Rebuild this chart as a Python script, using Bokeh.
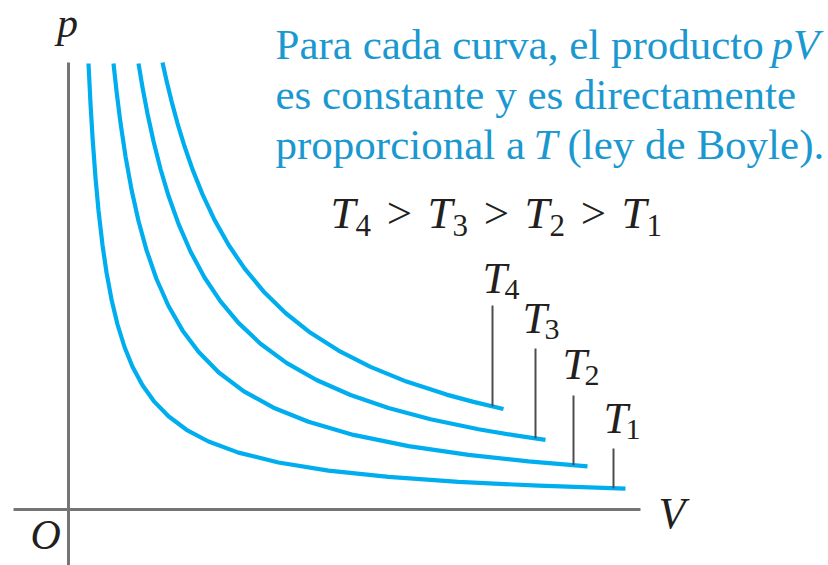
import numpy as np
from bokeh.plotting import figure
from bokeh.models import Range1d, Label
from bokeh.embed import file_html
from bokeh.resources import INLINE

# ---- data (chart units: V to the right of the p axis, p above the V axis) ----
names = ["T1", "T2", "T3", "T4"]

V_T1 = [20, 22, 24, 27, 30, 34, 38, 43, 49, 56, 64, 74, 86, 100, 118, 140, 170, 210, 260, 320, 390, 470, 557]
p_T1 = [446, 405.9, 372.5, 331.7, 299, 264.4, 237.1, 210.1, 185, 162.5, 142.8, 124.2, 107.6, 93.2, 79.7,
        68, 56.9, 47, 38.9, 32.6, 27.6, 23.8, 20.8]

V_T2 = [45, 48, 52, 57, 63, 70, 78, 88, 100, 114, 130, 150, 175, 205, 240, 285, 340, 400, 460, 519]
p_T2 = [446, 418.4, 386.6, 353.2, 320, 288.5, 259.4, 230.5, 203.5, 179.1, 157.7, 137.3, 118.4, 101.8,
        87.7, 74.6, 63.4, 54.6, 48.1, 43.2]

V_T3 = [70, 74, 79, 85, 92, 100, 110, 122, 136, 152, 170, 192, 218, 248, 282, 320, 362, 410, 445, 477]
p_T3 = [446, 422.2, 395.8, 368.2, 340.5, 313.7, 285.6, 258.0, 232.0, 208.1, 186.6, 165.8, 146.6, 129.5,
        114.5, 101.5, 90.3, 80.3, 74.4, 69.7]

V_T4 = [94, 98, 103, 109, 116, 124, 134, 146, 160, 176, 195, 217, 242, 270, 302, 338, 378, 405, 435]
p_T4 = [447, 429.0, 408.4, 386.2, 363.2, 340.1, 315.1, 289.6, 264.7, 241.1, 218.1, 196.5, 176.7, 158.9,
        142.6, 127.9, 114.9, 107.6, 100.5]

curves_V = [V_T1, V_T2, V_T3, V_T4]
curves_p = [p_T1, p_T2, p_T3, p_T4]
subs = ["1", "2", "3", "4"]

# where each curve label's leader line sits (V) and how high it starts (p)
leader_V = [545, 505, 467, 424]
leader_top = [61, 114, 161, 204]

# ---- styling ----
CURVE = "#00aeef"
BLUE_TXT = "#1a98cf"
AXIS = "#757575"
INK = "#231f20"
SERIF = "Liberation Serif"

OX, OY = 68, 509  # origin position in the picture (page pixels)
W, H = 828, 565
TXT_DY = 14        # text baseline correction

p = figure(width=W, height=H, output_backend="svg", toolbar_location=None,
           x_range=Range1d(-OX, W - OX), y_range=Range1d(OY - H, OY),
           min_border=0)
p.axis.visible = False
p.grid.visible = False
p.outline_line_color = None
p.background_fill_color = "white"
p.border_fill_color = "white"


def X(px):
    return px - OX


def Y(py):
    return OY - py


def ann(x, y, text, size, style="normal", color=INK, align="left"):
    p.add_layout(Label(x=X(x), y=Y(y - TXT_DY), text=text, text_font=SERIF, text_font_size=f"{size}px",
                       text_font_style=style, text_color=color, text_align=align,
                       text_baseline="alphabetic"))


# axes (plain lines)
p.segment(x0=[X(13), 0], y0=[0, Y(62)], x1=[X(640), 0], y1=[0, Y(570)],
          line_color=AXIS, line_width=3)

# isotherms
for Vs, ps in zip(curves_V, curves_p):
    p.line(Vs, ps, line_color=CURVE, line_width=4.2, line_cap="butt", line_join="round")

# leader lines down to each curve
leader_bot = [float(np.interp(v, Vs, ps)) for v, Vs, ps in zip(leader_V, curves_V, curves_p)]
p.segment(x0=leader_V, y0=leader_top, x1=leader_V, y1=leader_bot, line_color="#4d4d4d", line_width=2)

# curve labels T_n
lab_left = [603, 562, 522, 482]
lab_base = [432, 378, 332, 292]
for s, lx, lb in zip(subs, lab_left, lab_base):
    ann(lx, lb, "T", 44, "italic")
    ann(lx + 22, lb + 11, s, 30)

# axis labels
ann(67, 36, "p", 42, "italic", align="center")
ann(658, 527, "V", 44, "italic")
ann(30, 548, "O", 42, "italic")

# blue explanatory text
ann(275, 58, "Para cada curva, el producto", 43, color=BLUE_TXT)
ann(771, 58, "pV", 43, "italic", color=BLUE_TXT)
ann(275, 108, "es constante y es directamente", 43, color=BLUE_TXT)
ann(275, 158, "proporcional a", 43, color=BLUE_TXT)
ann(533, 158, "T", 43, "italic", color=BLUE_TXT)
ann(567, 158, "(ley de Boyle).", 43, color=BLUE_TXT)

# T4 > T3 > T2 > T1
order = ["4", "3", "2", "1"]
for i, s in enumerate(order):
    tx = 330 + 97 * i
    ann(tx, 226, "T", 45, "italic")
    ann(tx + 25, 239, s, 31)
    if i < 3:
        ann(tx + 69, 226, ">", 45, align="center")

open("out.html", "w").write(file_html(p, INLINE))
